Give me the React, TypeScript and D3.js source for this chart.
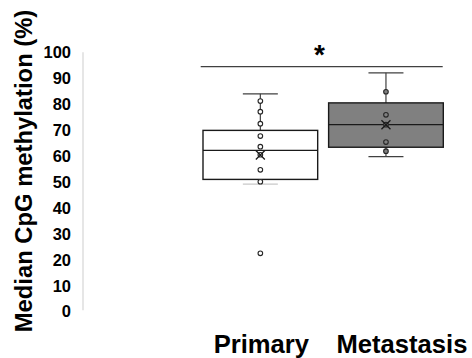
import React from "react";
import * as d3 from "d3";

const categories = ["Primary", "Metastasis"];
const q1 = [51.0, 63.4];
const medians = [62.2, 72.1];
const q3 = [69.9, 80.5];
const whiskerLow = [49.2, 59.8];
const whiskerHigh = [84.0, 92.1];
const means = [60.4, 72.1];
const points: number[][] = [
  [81.2, 77.1, 72.5, 67.7, 63.6, 60.5, 54.7, 50.1, 22.5],
  [84.8, 75.9, 72.1, 65.4, 61.9],
];
const fills = ["#ffffff", "#808080"];
const yTicks = [0, 10, 20, 30, 40, 50, 60, 70, 80, 90, 100];
const yTitle = "Median CpG methylation (%)";
const sigLabel = "*";

const W = 472;
const H = 358;
const FONT = "Arial, 'Liberation Sans', Helvetica, sans-serif";

export default function App() {
  const y = d3.scaleLinear().domain([0, 100]).range([311.7, 52.3]);
  const x = d3.scaleBand<string>().domain(categories).range([203, 443.3]).paddingInner(0.087).paddingOuter(0);
  const bw = x.bandwidth();
  const capHalf = 17.5;
  const labelOffsets = [1, 16];

  return (
    <svg
      width={W}
      height={H}
      style={{ position: "absolute", left: 0, top: 0, background: "#fff" }}
      fontFamily={FONT}
    >
      {/* axis line */}
      <line x1={83} x2={83} y1={y(100)} y2={y(0) - 1.5} stroke="#d9d9d9" strokeWidth={1.3} />
      {yTicks.map((t) => (
        <text
          key={t}
          x={71}
          y={y(t)}
          dy="0.35em"
          textAnchor="end"
          fontSize={16.5}
          fontWeight="bold"
          fill="#000"
        >
          {t}
        </text>
      ))}
      <text
        transform={`translate(32,${171}) rotate(-90)`}
        textAnchor="middle"
        fontSize={23.8}
        fontWeight="bold"
        fill="#000"
      >
        {yTitle}
      </text>

      {/* significance */}
      <line x1={200.7} x2={442.7} y1={66.7} y2={66.7} stroke="#404040" strokeWidth={1.3} />
      <text x={319.5} y={64} textAnchor="middle" fontSize={28} fontWeight="bold" fill="#000">
        {sigLabel}
      </text>

      {categories.map((c, i) => {
        const x0 = x(c)!;
        const cx = x0 + bw / 2;
        return (
          <g key={c}>
            {/* whiskers */}
            <line x1={cx} x2={cx} y1={y(whiskerHigh[i])} y2={y(q3[i])} stroke="#404040" strokeWidth={1.2} />
            <line x1={cx} x2={cx} y1={y(q1[i])} y2={y(whiskerLow[i])} stroke="#404040" strokeWidth={1.2} />
            <line x1={cx - capHalf} x2={cx + capHalf} y1={y(whiskerHigh[i])} y2={y(whiskerHigh[i])} stroke="#404040" strokeWidth={1.3} />
            <line
              x1={cx - capHalf}
              x2={cx + capHalf}
              y1={y(whiskerLow[i])}
              y2={y(whiskerLow[i])}
              stroke={i === 0 ? "#c8c8c8" : "#404040"}
              strokeWidth={1.3}
            />
            {/* box */}
            <rect
              x={x0}
              y={y(q3[i])}
              width={bw}
              height={y(q1[i]) - y(q3[i])}
              fill={fills[i]}
              stroke="#1a1a1a"
              strokeWidth={1.4}
            />
            <line x1={x0} x2={x0 + bw} y1={y(medians[i])} y2={y(medians[i])} stroke="#1a1a1a" strokeWidth={1.4} />
            {/* points */}
            {points[i].map((v, j) => (
              <circle key={j} cx={cx} cy={y(v)} r={2.3} fill={fills[i]} stroke="#262626" strokeWidth={1.1} />
            ))}
            {/* mean X */}
            <path
              d={`M${cx - 4.5},${y(means[i]) - 4.5}L${cx + 4.5},${y(means[i]) + 4.5}M${cx + 4.5},${y(means[i]) - 4.5}L${cx - 4.5},${y(means[i]) + 4.5}`}
              stroke="#1a1a1a"
              strokeWidth={1.3}
            />
            <text
              x={cx + labelOffsets[i]}
              y={353.3}
              textAnchor="middle"
              fontSize={25.6}
              fontWeight="bold"
              fill="#000"
            >
              {c}
            </text>
          </g>
        );
      })}
    </svg>
  );
}
